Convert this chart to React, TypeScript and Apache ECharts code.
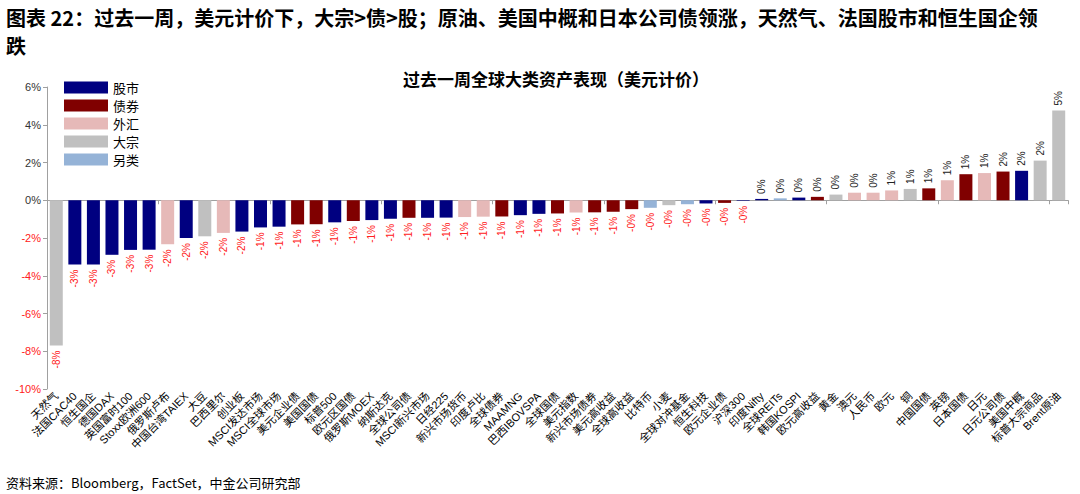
import React, { useEffect, useRef } from "react";
import * as echarts from "echarts";

const categories = [
  "天然气", "法国CAC40", "恒生国企", "德国DAX", "英国富时100", "Stoxx欧洲600", "俄罗斯卢布", "中国台湾TAIEX", "大豆", "巴西里尔",
  "创业板", "MSCI发达市场", "MSCI全球市场", "美元企业债", "美国国债", "标普500", "欧元区国债", "俄罗斯MOEX", "纳斯达克", "全球公司债",
  "MSCI新兴市场", "日经225", "新兴市场货币", "印度卢比", "全球债券", "MAAMNG", "巴西IBOVSPA", "全球国债", "美元指数", "新兴市场债券",
  "美元高收益", "全球高收益", "比特币", "小麦", "全球对冲基金", "恒生科技", "欧元企业债", "沪深300", "印度Nifty", "全球REITs",
  "韩国KOSPI", "欧元高收益", "黄金", "澳元", "人民币", "欧元", "铜", "中国国债", "英镑", "日本国债",
  "日元", "日元公司债", "美国中概", "标普大宗商品", "Brent原油",
];

const values = [
  -7.7, -3.41, -3.4, -2.89, -2.63, -2.62, -2.33, -2.0, -1.91, -1.73,
  -1.66, -1.44, -1.4, -1.28, -1.27, -1.17, -1.1, -1.05, -0.98, -0.93,
  -0.93, -0.92, -0.89, -0.87, -0.86, -0.79, -0.72, -0.7, -0.65, -0.64,
  -0.61, -0.47, -0.4, -0.26, -0.21, -0.17, -0.14, -0.03, 0.07, 0.1,
  0.14, 0.18, 0.3, 0.4, 0.4, 0.52, 0.6, 0.63, 1.06, 1.38,
  1.44, 1.52, 1.56, 2.1, 4.75,
];

// 0 股市, 1 债券, 2 外汇, 3 大宗, 4 另类
const assetTypes = [
  3, 0, 0, 0, 0, 0, 2, 0, 3, 2,
  0, 0, 0, 1, 1, 0, 1, 0, 0, 1,
  0, 0, 2, 2, 1, 0, 0, 1, 2, 1,
  1, 1, 4, 3, 4, 0, 1, 0, 0, 4,
  0, 1, 3, 2, 2, 2, 3, 1, 2, 1,
  2, 1, 0, 3, 3,
];

const typeNames = ["股市", "债券", "外汇", "大宗", "另类"];
const typeColors = ["#000080", "#800000", "#E6B9B8", "#C0C0C0", "#95B3D7"];

const yTicks = { min: -10, max: 6, interval: 2 };

const fmt = (v: number) =>
  v < 0 ? "-" + Math.round(-v) + "%" : Math.round(v) + "%";

export default function App() {
  const ref = useRef<HTMLDivElement>(null);

  useEffect(() => {
    if (!ref.current) return;
    const chart = echarts.init(ref.current, undefined, { renderer: "svg" });

    const series = typeNames.map((name, t) => ({
      name,
      type: "bar",
      xAxisIndex: 0,
      barWidth: "70%",
      barGap: "-100%",
      itemStyle: { color: typeColors[t] },
      data: values.map((v, i) => {
        if (assetTypes[i] !== t) return "-";
        const neg = v < 0;
        return {
          value: v,
          label: {
            show: true,
            position: neg ? "bottom" : "top",
            distance: 5,
            rotate: 90,
            align: neg ? "right" : "left",
            verticalAlign: "middle",
            color: neg ? "#FF2020" : "#222",
            fontSize: 10,
            fontFamily: "Liberation Sans",
            formatter: () => fmt(v),
          },
        };
      }),
    }));

    chart.setOption({
      animation: false,
      backgroundColor: "#fff",
      textStyle: { fontFamily: "Liberation Sans, Noto Sans CJK SC" },
      legend: {
        orient: "vertical",
        left: 64,
        top: 81,
        padding: 0,
        itemWidth: 44,
        itemHeight: 12,
        itemGap: 5,
        icon: "rect",
        data: typeNames,
        textStyle: { fontSize: 13, color: "#000", fontFamily: "Noto Sans CJK SC" },
      },
      grid: { left: 47, right: 12, top: 87, bottom: 105, containLabel: false },
      xAxis: [
        {
          type: "category",
          data: categories,
          position: "bottom",
          axisLine: { show: false, onZero: false },
          axisTick: { show: false },
          axisLabel: {
            interval: 0,
            rotate: 45,
            fontSize: 11,
            color: "#000",
            margin: 5,
            fontFamily: "Liberation Sans, Noto Sans CJK SC",
          },
        },
        {
          type: "category",
          data: categories,
          position: "bottom",
          axisLine: { show: true, onZero: true, lineStyle: { color: "#A0A0A0", width: 1 } },
          axisTick: { show: true, length: 4, lineStyle: { color: "#A0A0A0" } },
          axisLabel: { show: false },
        },
      ],
      yAxis: {
        type: "value",
        min: yTicks.min,
        max: yTicks.max,
        interval: yTicks.interval,
        splitLine: { show: false },
        axisLine: { show: true, lineStyle: { color: "#A0A0A0" } },
        axisTick: { show: true, length: 4, lineStyle: { color: "#A0A0A0" } },
        axisLabel: {
          fontSize: 11,
          margin: 6,
          fontFamily: "Liberation Sans",
          formatter: (v: number) => v + "%",
          color: (v: any) => (Number(v) < 0 ? "#FF2020" : "#333"),
        },
      },
      graphic: [
        {
          type: "text",
          left: 6,
          top: 7,
          style: {
            text: "图表 22：过去一周，美元计价下，大宗>债>股；原油、美国中概和日本公司债领涨，天然气、法国股市和恒生国企领",
            fontSize: 20,
            fontWeight: "bold",
            fontFamily: "Noto Sans CJK SC",
            fill: "#000",
          },
        },
        {
          type: "text",
          left: 6,
          top: 35,
          style: { text: "跌", fontSize: 20, fontWeight: "bold", fontFamily: "Noto Sans CJK SC", fill: "#000" },
        },
        {
          type: "text",
          x: 556,
          y: 78,
          style: {
            text: "过去一周全球大类资产表现（美元计价）",
            fontSize: 17,
            fontWeight: "bold",
            fontFamily: "Noto Sans CJK SC",
            fill: "#000",
            align: "center",
            verticalAlign: "middle",
          },
        },
        {
          type: "text",
          left: 6,
          top: 476,
          style: {
            text: "资料来源：Bloomberg，FactSet，中金公司研究部",
            fontSize: 13,
            fontFamily: "Noto Sans CJK SC",
            fill: "#000",
          },
        },
      ],
      series,
    });

    return () => chart.dispose();
  }, []);

  return (
    <div
      ref={ref}
      style={{ position: "fixed", left: 0, top: 0, width: 1080, height: 494, background: "#fff" }}
    />
  );
}
